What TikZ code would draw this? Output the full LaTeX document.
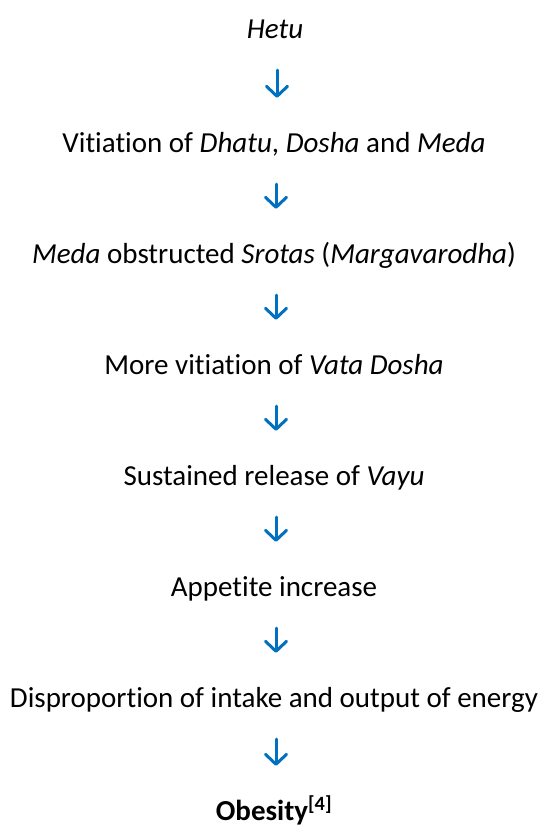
\documentclass[tikz,border=0pt]{standalone}
\usepackage{fontspec}
\setmainfont[Ligatures=NoCommon]{Carlito}
\usetikzlibrary{arrows.meta}
\definecolor{arrowblue}{HTML}{0070C0}
\begin{document}
\begin{tikzpicture}[x=1pt,y=-1pt,
  lbl/.style={inner sep=0pt, font=\fontsize{29}{35}\selectfont, text height=20pt, text depth=0pt, anchor=center},
  flow/.style={draw=arrowblue, line width=3pt, line cap=round,
    -{Straight Barb[length=10pt,width=21pt,line cap=round,round]},
    shorten <=32pt, shorten >=34pt},
]
\useasboundingbox (0,0) rectangle (544,838);
\node[lbl] (n1) at (275,28) {\textit{Hetu}};
\node[lbl] (n2) at (274,142) {Vitiation of \textit{Dhatu}, \textit{Dosha} and \textit{Meda}};
\node[lbl] (n3) at (274,253) {\textit{Meda} obstructed \textit{Srotas} (\textit{Margavarodha})};
\node[lbl] (n4) at (274,364) {More vitiation of \textit{Vata Dosha}};
\node[lbl] (n5) at (274,475) {Sustained release of \textit{Vayu}};
\node[lbl] (n6) at (274,586) {Appetite increase};
\node[lbl] (n7) at (274,697) {Disproportion of intake and output of energy};
\node[lbl] (n8) at (274,810) {\textbf{Obesity\textsuperscript{[4]}}};
\foreach \a/\b in {n1/n2,n2/n3,n3/n4,n4/n5,n5/n6,n6/n7,n7/n8}
  \draw[flow] ([xshift=2pt]\a.south) -- ([xshift=2pt]\b.north -| \a.south);
\end{tikzpicture}
\end{document}
